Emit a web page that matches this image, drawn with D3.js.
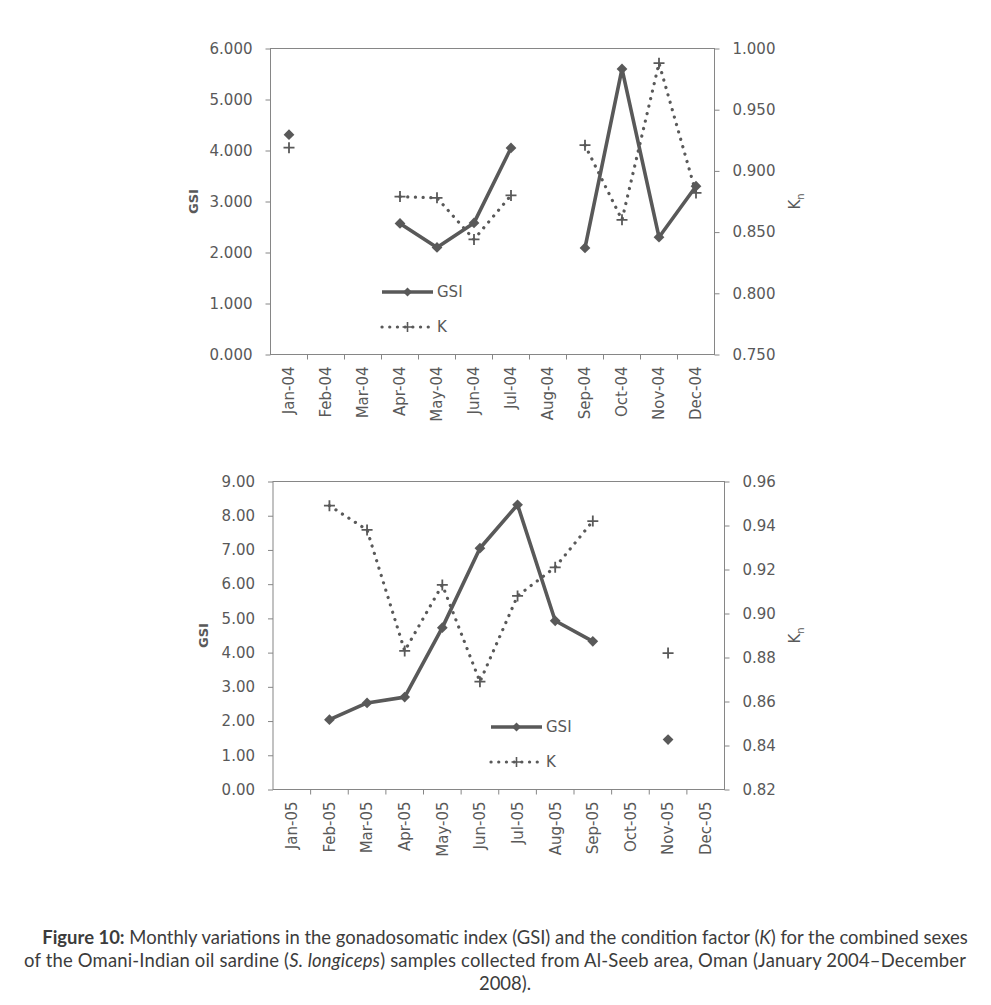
<!DOCTYPE html>
<html>
<head>
<meta charset="utf-8">
<script src="https://cdn.jsdelivr.net/npm/d3@7"></script>
<style>
  body { margin: 0; background: #fff; }
  .chart text { font-family: "DejaVu Sans", Verdana, sans-serif; }
  .caption text { font-family: Lato, "Open Sans", sans-serif; }
</style>
</head>
<body>
<svg id="fig" width="991" height="1005"></svg>
<script>
'use strict';

// Data: monthly GSI and condition factor K, null = no sample
var months04 = ["Jan-04","Feb-04","Mar-04","Apr-04","May-04","Jun-04","Jul-04","Aug-04","Sep-04","Oct-04","Nov-04","Dec-04"]
var gsi04 = [4.31, null, null, 2.57, 2.10, 2.58, 4.05, null, 2.09, 5.60, 2.30, 3.30]
var k04   = [0.919, null, null, 0.879, 0.878, 0.844, 0.880, null, 0.921, 0.860, 0.988, 0.882]

var months05 = ["Jan-05","Feb-05","Mar-05","Apr-05","May-05","Jun-05","Jul-05","Aug-05","Sep-05","Oct-05","Nov-05","Dec-05"]
var gsi05 = [null, 2.04, 2.53, 2.70, 4.73, 7.05, 8.32, 4.93, 4.33, null, 1.46, null]
var k05   = [null, 0.949, 0.938, 0.883, 0.913, 0.869, 0.908, 0.921, 0.942, null, 0.882, null]

var legendLabels = ["GSI", "K"]

var ink = "#595959"
var axisCol = "#868686"

var svg = d3.select("#fig")

// Excel style "+" marker
var plusSymbol = {
  draw: function(ctx, size) {
    var r = Math.sqrt(size) / 2
    ctx.moveTo(-r, 0); ctx.lineTo(r, 0)
    ctx.moveTo(0, -r); ctx.lineTo(0, r)
  }
}

function drawMarkers(g, x, y, values, kind) {
  var pts = values.map(function(v, i){ return {i: i, v: v} }).filter(function(d){ return d.v != null })
  if (kind === "diamond") {
    g.selectAll(null).data(pts).enter().append("path")
      .attr("d", d3.symbol(d3.symbolSquare, 58)())
      .attr("transform", function(d){ return "translate(" + x(d.i) + "," + y(d.v) + ") rotate(45)" })
      .attr("fill", ink)
  } else {
    g.selectAll(null).data(pts).enter().append("path")
      .attr("d", d3.symbol(plusSymbol, 121)())
      .attr("transform", function(d){ return "translate(" + x(d.i) + "," + y(d.v) + ")" })
      .attr("fill", "none").attr("stroke", ink).attr("stroke-width", 1.8)
  }
}

function drawChart(o) {
  var g = svg.append("g").attr("class", "chart")

  var band = d3.scaleBand().domain(o.months).range([o.left, o.right])
  var x = function(i){ return band(o.months[i]) + band.bandwidth() / 2 }
  var yL = d3.scaleLinear().domain(o.leftDomain).range([o.bottom, o.top])
  var yR = d3.scaleLinear().domain(o.rightDomain).range([o.bottom, o.top])

  // plot frame
  g.append("rect")
    .attr("x", o.left).attr("y", o.top)
    .attr("width", o.right - o.left).attr("height", o.bottom - o.top)
    .attr("fill", "none").attr("stroke", axisCol).attr("stroke-width", 1)

  // left axis
  var ax = g.append("g").attr("transform", "translate(" + o.left + ",0)")
    .call(d3.axisLeft(yL).ticks(o.leftTicks).tickFormat(d3.format(o.fmt)).tickSize(5).tickPadding(13))
  ax.select(".domain").remove()

  // right axis
  var axR = g.append("g").attr("transform", "translate(" + o.right + ",0)")
    .call(d3.axisRight(yR).ticks(o.rightTicks).tickFormat(d3.format(o.fmt)).tickSize(5).tickPadding(13))
  axR.select(".domain").remove()

  // category axis: labels at centres, ticks between categories
  var axB = g.append("g").attr("transform", "translate(0," + o.bottom + ")")
    .call(d3.axisBottom(band).tickSize(0))
  axB.select(".domain").remove()
  axB.selectAll("text")
    .attr("transform", "rotate(-90)")
    .attr("x", -12).attr("y", 0).attr("dy", "0.36em")
    .style("text-anchor", "end")

  g.selectAll(".btick").data(d3.range(1, o.months.length)).enter().append("line")
    .attr("class", "btick")
    .attr("x1", function(i){ return band.range()[0] + i * band.step() })
    .attr("x2", function(i){ return band.range()[0] + i * band.step() })
    .attr("y1", o.bottom).attr("y2", o.bottom + 5)
    .attr("stroke", axisCol)

  g.selectAll(".tick line").attr("stroke", axisCol)
  g.selectAll(".tick text").attr("fill", ink).style("font-size", "15px")
    .style("font-family", '"DejaVu Sans", Verdana, sans-serif')

  // axis titles
  g.append("text")
    .attr("transform", "translate(" + o.gsiLabelX + "," + (o.top + o.bottom) / 2 + ") rotate(-90)")
    .attr("text-anchor", "middle").attr("dy", "0.35em")
    .attr("fill", ink).attr("font-weight", "bold").attr("font-size", 13)
    .text("GSI")

  var kt = g.append("text")
    .attr("transform", "translate(" + o.kLabelX + "," + (o.top + o.bottom) / 2 + ") rotate(-90)")
    .attr("text-anchor", "middle").attr("dy", "0.35em")
    .attr("fill", ink).attr("font-size", 15)
  kt.append("tspan").text("K")
  kt.append("tspan").attr("font-size", 10).attr("dy", 4).text("n")

  // series
  var lineL = d3.line().defined(function(d){ return d != null })
    .x(function(d, i){ return x(i) }).y(function(d){ return yL(d) })
  var lineR = d3.line().defined(function(d){ return d != null })
    .x(function(d, i){ return x(i) }).y(function(d){ return yR(d) })

  g.append("path").datum(o.k)
    .attr("d", lineR).attr("fill", "none").attr("stroke", ink)
    .attr("stroke-width", 3.2).attr("stroke-dasharray", "0.1,7.6").attr("stroke-linecap", "round")
  drawMarkers(g, x, yR, o.k, "plus")

  g.append("path").datum(o.gsi)
    .attr("d", lineL).attr("fill", "none").attr("stroke", ink)
    .attr("stroke-width", 3.6).attr("stroke-linejoin", "round")
  drawMarkers(g, x, yL, o.gsi, "diamond")

  // legend
  var lg = g.append("g")
  var lx0 = o.legendX, lx1 = o.legendX + 51, lmid = (lx0 + lx1) / 2
  lg.append("line").attr("x1", lx0).attr("x2", lx1).attr("y1", o.legendY).attr("y2", o.legendY)
    .attr("stroke", ink).attr("stroke-width", 3.6)
  lg.append("path").attr("d", d3.symbol(d3.symbolSquare, 40)())
    .attr("transform", "translate(" + lmid + "," + o.legendY + ") rotate(45)").attr("fill", ink)
  lg.append("line").attr("x1", lx0).attr("x2", lx1).attr("y1", o.legendY + 35).attr("y2", o.legendY + 35)
    .attr("stroke", ink).attr("stroke-width", 3.2).attr("stroke-dasharray", "0.1,7.6").attr("stroke-linecap", "round")
  lg.append("path").attr("d", d3.symbol(plusSymbol, 100)())
    .attr("transform", "translate(" + lmid + "," + (o.legendY + 35) + ")")
    .attr("fill", "none").attr("stroke", ink).attr("stroke-width", 1.6)
  lg.selectAll("text").data(legendLabels).enter().append("text")
    .attr("x", lx1 + 4).attr("y", function(d, i){ return o.legendY + i * 35 })
    .attr("dy", "0.36em").attr("fill", ink).attr("font-size", 15)
    .text(function(d){ return d })
}

drawChart({
  months: months04, gsi: gsi04, k: k04,
  left: 270.5, right: 714.5, top: 48.5, bottom: 354.5,
  leftDomain: [0, 6], rightDomain: [0.75, 1.0], leftTicks: 6, rightTicks: 5, fmt: ".3f",
  gsiLabelX: 193, kLabelX: 795, legendX: 382, legendY: 292
})

drawChart({
  months: months05, gsi: gsi05, k: k05,
  left: 273, right: 724.5, top: 481.5, bottom: 789.5,
  leftDomain: [0, 9], rightDomain: [0.82, 0.96], leftTicks: 9, rightTicks: 7, fmt: ".2f",
  gsiLabelX: 203, kLabelX: 795, legendX: 491, legendY: 727
})

// caption
var cap = svg.append("g").attr("class", "caption").attr("fill", "#3c3c3c")
var l1 = cap.append("text").attr("x", 505).attr("y", 944).attr("text-anchor", "middle")
l1.append("tspan").attr("font-weight", "bold").text("Figure 10:")
l1.append("tspan").text(" Monthly variations in the gonadosomatic index (GSI) and the condition factor (")
l1.append("tspan").attr("font-style", "italic").text("K")
l1.append("tspan").text(") for the combined sexes")
var l2 = cap.append("text").attr("x", 495).attr("y", 967).attr("text-anchor", "middle")
l2.append("tspan").text("of the Omani-Indian oil sardine (")
l2.append("tspan").attr("font-style", "italic").text("S. longiceps")
l2.append("tspan").text(") samples collected from Al-Seeb area, Oman (January 2004\u2013December")
var l3 = cap.append("text").attr("x", 505).attr("y", 990).attr("text-anchor", "middle")
  .text("2008).")

cap.selectAll("text").attr("font-size", 17)
var w1 = l1.node().getComputedTextLength()
var fs = 17 * 926 / w1
cap.selectAll("text").attr("font-size", fs)
l2.attr("textLength", 942).attr("lengthAdjust", "spacing")
</script>
</body>
</html>
